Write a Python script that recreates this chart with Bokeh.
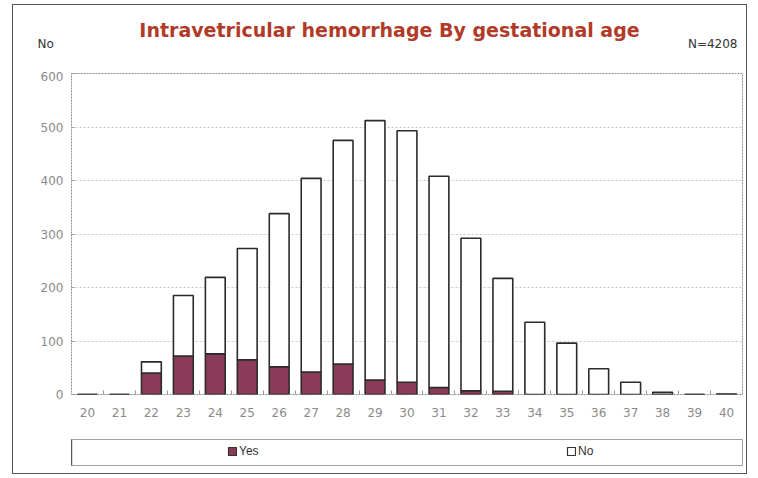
from bokeh.plotting import figure
from bokeh.models import (ColumnDataSource, Range1d, FixedTicker, Label, Legend,
                          LegendItem)
from bokeh.layouts import column
from bokeh.embed import file_html
from bokeh.resources import INLINE

# ---- data ----
ages = [20, 21, 22, 23, 24, 25, 26, 27, 28, 29, 30, 31, 32, 33, 34, 35, 36, 37, 38, 39, 40]
yes = [0, 0, 40, 72, 76, 65, 52, 42, 57, 27, 23, 13, 7, 6, 0, 0, 0, 0, 0, 0, 0]
total = [0, 0, 61, 185, 219, 273, 338, 404, 475, 512, 493, 408, 292, 217, 135, 96, 48, 23, 4, 0, 1]
no = [t - y for t, y in zip(total, yes)]
series = ["yes", "no"]
series_labels = ["Yes", "No"]
y_ticks = [0, 100, 200, 300, 400, 500, 600]
title_text = "Intravetricular hemorrhage By gestational age"
n_text = "N=4208"
y_unit = "No"

YES_COL = "#8B3B5A"
NO_COL = "#FFFFFF"
TITLE_COL = "#B23A28"
TICK_COL = "#8a8a8a"
FONT = "DejaVu Sans"
W = 733

# ---- header strip (title, unit, N) ----
h = figure(width=W, height=66, output_backend="svg", toolbar_location=None,
           x_range=Range1d(0, 1), y_range=Range1d(0, 1),
           x_axis_location=None, y_axis_location=None, min_border=0)
h.frame_align = False
h.grid.visible = False
h.outline_line_color = None
h.add_layout(Label(x=376, y=42, x_units="screen", y_units="screen", text=title_text,
                   text_font=FONT, text_font_size="19px", text_font_style="bold",
                   text_color=TITLE_COL, text_align="center", text_baseline="middle"))
h.add_layout(Label(x=24, y=28, x_units="screen", y_units="screen", text=y_unit,
                   text_font=FONT, text_font_size="12px", text_color="#333333",
                   text_baseline="middle"))
h.add_layout(Label(x=724, y=28, x_units="screen", y_units="screen", text=n_text,
                   text_font=FONT, text_font_size="12px", text_color="#333333",
                   text_baseline="middle", text_align="right"))

# ---- main chart ----
source = ColumnDataSource(dict(age=ages, yes=yes, no=no))

p = figure(width=W, height=366, output_backend="svg", toolbar_location=None,
           x_range=Range1d(ages[0] - 0.5, ages[-1] + 0.5), y_range=Range1d(0, 600),
           min_border_left=58, min_border_right=4, min_border_top=2, min_border_bottom=43)

p.vbar_stack(series, x="age", width=0.62, source=source,
             fill_color=[YES_COL, NO_COL], line_color="#2b2b2b", line_width=1.6)

p.outline_line_color = "#8c8c8c"
p.outline_line_dash = "2 1"
p.outline_line_width = 1

p.xgrid.visible = False
p.ygrid.ticker = FixedTicker(ticks=y_ticks[1:-1])
p.ygrid.grid_line_color = "#c8c8c8"
p.ygrid.grid_line_dash = "2 2"

p.xaxis.ticker = FixedTicker(ticks=ages, minor_ticks=[a + 0.5 for a in ages[:-1]])
p.yaxis.ticker = FixedTicker(ticks=y_ticks)
for ax in (p.xaxis, p.yaxis):
    ax.axis_line_color = None
    ax.major_label_text_color = TICK_COL
    ax.major_label_text_font = FONT
    ax.major_label_text_font_size = "12px"
p.xaxis.major_tick_line_color = None
p.xaxis.minor_tick_line_color = "#999999"
p.xaxis.minor_tick_in = 4
p.xaxis.minor_tick_out = 0
p.xaxis.major_label_standoff = 7
p.yaxis.minor_tick_line_color = None
p.yaxis.major_tick_line_color = "#999999"
p.yaxis.major_tick_in = 3
p.yaxis.major_tick_out = 0
p.yaxis.major_label_standoff = 8

# ---- legend strip ----
p2 = figure(width=W, height=36, output_backend="svg", toolbar_location=None,
            x_range=Range1d(0, 1), y_range=Range1d(0, 1),
            x_axis_location=None, y_axis_location=None,
            min_border_left=58, min_border_right=4, min_border_top=2, min_border_bottom=8)
p2.grid.visible = False
p2.outline_line_color = "#a0a0a0"
p2.outline_line_width = 1

legend_x = [156, 495]
for lab, col, lx in zip(series_labels, [YES_COL, NO_COL], legend_x):
    # legend proxy: a single bar placed outside the strip's visible range
    r = p2.vbar(x=[-5], top=[1], width=0.1, fill_color=col, line_color="#333333",
                line_width=1.2)
    lg = Legend(items=[LegendItem(label=lab, renderers=[r])], location=(lx, 7),
                padding=0, margin=0, border_line_color=None, background_fill_alpha=0,
                glyph_width=10, glyph_height=10, label_standoff=2,
                label_text_font="Liberation Sans", label_text_font_size="12px",
                label_text_color="#333333", label_height=12)
    p2.add_layout(lg, "center")

layout = column(h, p, p2, spacing=0,
                styles={"border": "1px solid #555555", "margin-left": "12px",
                        "margin-top": "4px"})

open("out.html", "w").write(file_html(layout, INLINE))
